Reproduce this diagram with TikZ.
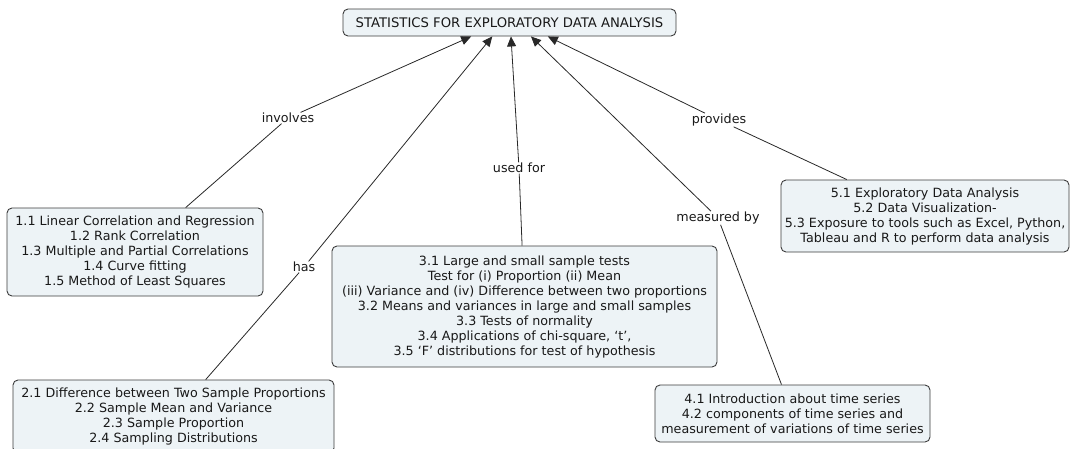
\documentclass[tikz,border=0pt]{standalone}
\usepackage{fontspec}
\setmainfont{DejaVu Sans}
\usetikzlibrary{arrows.meta}

\definecolor{boxfill}{RGB}{237,243,246}
\definecolor{boxline}{RGB}{60,60,60}
\definecolor{linkcol}{RGB}{40,40,40}
\definecolor{inkcol}{RGB}{25,25,25}

\begin{document}
\begin{tikzpicture}[x=1pt,y=-1pt,
  concept/.style={draw=boxline, fill=boxfill, rounded corners=5pt,
    line width=0.9pt, align=center, text=inkcol, inner sep=0pt,
    font=\fontsize{12.7}{15}\selectfont},
  topic/.style={concept, execute at begin node={\rule{0pt}{13.5pt}}},
  linkphrase/.style={text=inkcol, inner sep=0.5pt,
    font=\fontsize{12.7}{15}\selectfont},
  conn/.style={draw=linkcol, line width=0.8pt},
  arr/.style={conn, -{Triangle[length=10pt,width=9pt]}},
]
\useasboundingbox (0,0) rectangle (1073,448);
\clip (0,0) rectangle (1073,448);

% central concept
\node[concept, font=\fontsize{13.2}{15}\selectfont,
      minimum width=333pt, minimum height=27pt] (top) at (509.5,22.5)
  {STATISTICS FOR EXPLORATORY DATA ANALYSIS};

% topic boxes
\node[topic, minimum width=256pt, minimum height=88pt] (box1) at (135,252)
  {1.1 Linear Correlation and Regression\\
   1.2 Rank Correlation\\
   1.3 Multiple and Partial Correlations\\
   1.4 Curve fitting\\
   1.5 Method of Least Squares};

\node[topic, minimum width=321pt, minimum height=73pt] (box2) at (173.5,416.5)
  {2.1 Difference between Two Sample Proportions\\
   2.2 Sample Mean and Variance\\
   2.3 Sample Proportion\\
   2.4 Sampling Distributions};

\node[topic, minimum width=385pt, minimum height=121pt] (box3) at (524.5,306.5)
  {3.1 Large and small sample tests\\
   Test for (i) Proportion (ii) Mean\\
   (iii) Variance and (iv) Difference between two proportions\\
   3.2 Means and variances in large and small samples\\
   3.3 Tests of normality\\
   3.4 Applications of chi-square, `t',\\
   3.5 `F' distributions for test of hypothesis};

\node[topic, minimum width=275pt, minimum height=57pt] (box4) at (792.5,413.5)
  {4.1 Introduction about time series\\
   4.2 components of time series and\\
   measurement of variations of time series};

\node[topic, minimum width=288pt, minimum height=72pt] (box5) at (925,216)
  {5.1 Exploratory Data Analysis\\
   5.2 Data Visualization-\\
   5.3 Exposure to tools such as Excel, Python,\\
   Tableau and R to perform data analysis};

% linking phrases
\node[linkphrase] (involves) at (288,118) {involves};
\node[linkphrase] (has) at (304,267) {has};
\node[linkphrase] (usedfor) at (519,168) {used for};
\node[linkphrase] (measured) at (718,218) {measured by};
\node[linkphrase] (provides) at (719,120) {provides};

% connectors
\draw[conn] (box1) -- (involves);
\draw[arr] (involves) -- (top.200);
\draw[conn] (box2) -- (has);
\draw[arr] (has) -- (top.219);
\draw[conn] (box3) -- (usedfor);
\draw[arr] (usedfor) -- (top.276);
\draw[conn] (box4) -- (measured);
\draw[arr] (measured) -- (top.327);
\draw[conn] (box5) -- (provides);
\draw[arr] (provides) -- (top.340);
\end{tikzpicture}
\end{document}
